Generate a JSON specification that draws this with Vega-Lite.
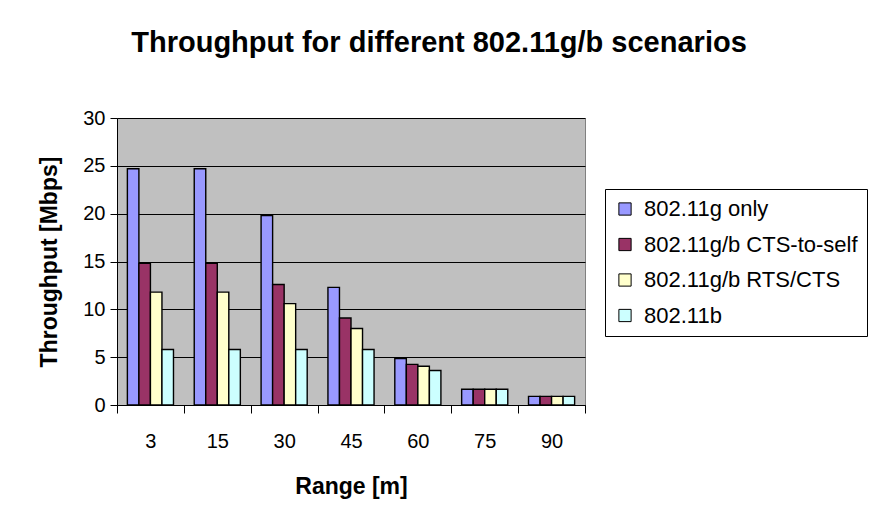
{
  "$schema": "https://vega.github.io/schema/vega-lite/v6.json",
  "width": 468,
  "height": 287,
  "autosize": {"type": "none"},
  "padding": {"left": 117, "top": 118, "right": 288, "bottom": 114},
  "background": "white",
  "title": {
    "text": "Throughput for different 802.11g/b scenarios",
    "font": "Liberation Sans",
    "fontSize": 29,
    "fontWeight": "bold",
    "color": "black",
    "anchor": "middle",
    "frame": "group",
    "dx": 88,
    "offset": 50
  },
  "data": {
    "values": [
      {"range": "3", "series": "802.11g only", "value": 24.7},
      {"range": "3", "series": "802.11g/b CTS-to-self", "value": 14.8},
      {"range": "3", "series": "802.11g/b RTS/CTS", "value": 11.8},
      {"range": "3", "series": "802.11b", "value": 5.8},
      {"range": "15", "series": "802.11g only", "value": 24.7},
      {"range": "15", "series": "802.11g/b CTS-to-self", "value": 14.8},
      {"range": "15", "series": "802.11g/b RTS/CTS", "value": 11.8},
      {"range": "15", "series": "802.11b", "value": 5.8},
      {"range": "30", "series": "802.11g only", "value": 19.8},
      {"range": "30", "series": "802.11g/b CTS-to-self", "value": 12.6},
      {"range": "30", "series": "802.11g/b RTS/CTS", "value": 10.6},
      {"range": "30", "series": "802.11b", "value": 5.8},
      {"range": "45", "series": "802.11g only", "value": 12.3},
      {"range": "45", "series": "802.11g/b CTS-to-self", "value": 9.1},
      {"range": "45", "series": "802.11g/b RTS/CTS", "value": 8.0},
      {"range": "45", "series": "802.11b", "value": 5.8},
      {"range": "60", "series": "802.11g only", "value": 4.85},
      {"range": "60", "series": "802.11g/b CTS-to-self", "value": 4.25},
      {"range": "60", "series": "802.11g/b RTS/CTS", "value": 4.05},
      {"range": "60", "series": "802.11b", "value": 3.6},
      {"range": "75", "series": "802.11g only", "value": 1.65},
      {"range": "75", "series": "802.11g/b CTS-to-self", "value": 1.65},
      {"range": "75", "series": "802.11g/b RTS/CTS", "value": 1.65},
      {"range": "75", "series": "802.11b", "value": 1.65},
      {"range": "90", "series": "802.11g only", "value": 0.9},
      {"range": "90", "series": "802.11g/b CTS-to-self", "value": 0.9},
      {"range": "90", "series": "802.11g/b RTS/CTS", "value": 0.9},
      {"range": "90", "series": "802.11b", "value": 0.9}
    ]
  },
  "mark": {"type": "bar", "stroke": "black", "strokeWidth": 1.4},
  "encoding": {
    "x": {
      "field": "range",
      "type": "ordinal",
      "sort": ["3", "15", "30", "45", "60", "75", "90"],
      "scale": {"paddingInner": 0, "paddingOuter": 0},
      "axis": {
        "title": "Range [m]",
        "labelAngle": 0,
        "tickBand": "extent",
        "tickSize": 8,
        "tickColor": "black",
        "domainColor": "black",
        "labelPadding": 18,
        "labelFont": "Liberation Sans",
        "labelFontSize": 20,
        "labelColor": "black",
        "titleFont": "Liberation Sans",
        "titleFontSize": 23,
        "titleFontWeight": "bold",
        "titleColor": "black",
        "titlePadding": 24
      }
    },
    "xOffset": {
      "field": "series",
      "type": "nominal",
      "sort": ["802.11g only", "802.11g/b CTS-to-self", "802.11g/b RTS/CTS", "802.11b"],
      "scale": {"paddingInner": 0, "paddingOuter": 0.9}
    },
    "y": {
      "field": "value",
      "type": "quantitative",
      "scale": {"domain": [0, 30], "nice": false},
      "axis": {
        "title": "Throughput [Mbps]",
        "values": [0, 5, 10, 15, 20, 25, 30],
        "grid": true,
        "gridColor": "black",
        "gridWidth": 1,
        "tickSize": 7,
        "tickColor": "black",
        "domainColor": "black",
        "labelPadding": 5,
        "labelFont": "Liberation Sans",
        "labelFontSize": 20,
        "labelColor": "black",
        "titleFont": "Liberation Sans",
        "titleFontSize": 23,
        "titleFontWeight": "bold",
        "titleColor": "black",
        "titlePadding": 21
      }
    },
    "color": {
      "field": "series",
      "type": "nominal",
      "scale": {
        "domain": ["802.11g only", "802.11g/b CTS-to-self", "802.11g/b RTS/CTS", "802.11b"],
        "range": ["#9999FF", "#993366", "#FFFFCC", "#CCFFFF"]
      },
      "legend": {
        "title": null,
        "orient": "none",
        "legendX": 488,
        "legendY": 71,
        "strokeColor": "black",
        "fillColor": "white",
        "padding": 9,
        "symbolType": "square",
        "symbolSize": 150,
        "symbolStrokeColor": "black",
        "symbolStrokeWidth": 1,
        "symbolOpacity": 1,
        "labelFont": "Liberation Sans",
        "labelFontSize": 22,
        "labelColor": "black",
        "labelOffset": 8,
        "rowPadding": 13.5,
        "labelLimit": 300
      }
    }
  },
  "config": {
    "view": {"fill": "#C0C0C0", "stroke": "#808080", "strokeWidth": 1}
  }
}
